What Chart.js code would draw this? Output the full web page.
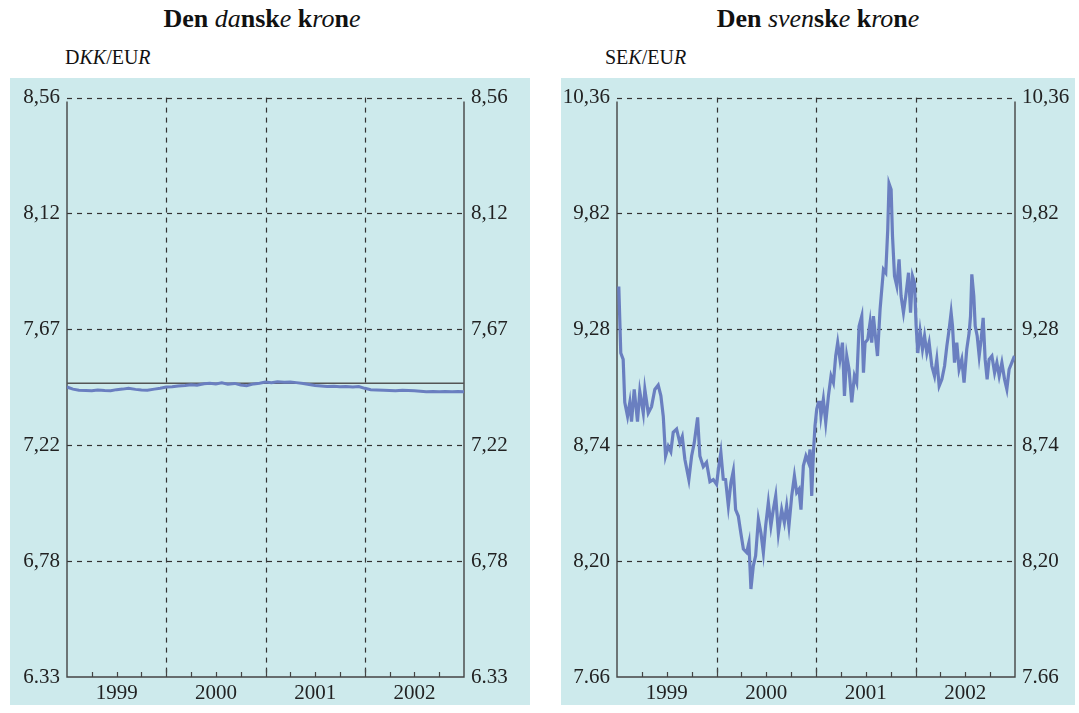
<!DOCTYPE html>
<html>
<head>
<meta charset="utf-8">
<script src="https://cdn.jsdelivr.net/npm/chart.js@4/dist/chart.umd.min.js"></script>
<style>
  html, body { margin: 0; padding: 0; background: #fff; }
  body { width: 1079px; height: 713px; position: relative; overflow: hidden;
         font-family: 'Liberation Serif', 'Times New Roman', serif; color: #111; }
  .title { position: absolute; top: 4px; width: 400px; text-align: center;
           font-family: 'Liberation Serif', 'Times New Roman', serif;
           font-size: 26px; white-space: nowrap; }
  .title b { font-weight: 700; font-style: normal; }
  .title i { font-weight: 400; font-style: italic; }
  .unit { position: absolute; top: 46px; font-size: 20px; white-space: nowrap;
          font-family: 'Liberation Serif', 'Times New Roman', serif; }
  .panel { position: absolute; top: 78px; height: 627px; background: #cdeaec; }
  .panel canvas { position: absolute; left: 0; top: 0; }
</style>
</head>
<body>
<div class="title" style="left:62px"><b>Den </b><i>da</i><b>nsk</b><i>e</i><b> k</b><i>ro</i><b>n</b><i>e</i></div>
<div class="title" style="left:618px"><b>Den </b><i>sven</i><b>sk</b><i>e</i><b> k</b><i>ro</i><b>n</b><i>e</i></div>
<div class="unit" style="left:65px">D<i>KK</i>/EU<i>R</i></div>
<div class="unit" style="left:605px">SE<i>K</i>/EU<i>R</i></div>

<div class="panel" style="left:10px;width:520px"><canvas id="dkkChart" width="520" height="627"></canvas></div>
<div class="panel" style="left:561px;width:514px"><canvas id="sekChart" width="514" height="627"></canvas></div>

<script>
/* === Data === */

var yearLabels = ['1999', '2000', '2001', '2002'];

var dkkTickValues = [6.33, 6.776, 7.222, 7.668, 8.114, 8.56];
var dkkTickLabels = ['6.33', '6,78', '7,22', '7,67', '8,12', '8,56'];
var sekTickValues = [7.66, 8.20, 8.74, 9.28, 9.82, 10.36];
var sekTickLabels = ['7.66', '8,20', '8,74', '9,28', '9,82', '10,36'];

var parityDates = [1999, 2003];
var parityRates = [7.46038, 7.46038];

var dkkDates = [
  1999.00, 1999.06, 1999.12, 1999.19, 1999.25, 1999.31, 1999.38, 1999.44,
  1999.50, 1999.56, 1999.62, 1999.69, 1999.75, 1999.81, 1999.88, 1999.94,
  2000.00, 2000.06, 2000.12, 2000.19, 2000.25, 2000.31, 2000.38, 2000.44,
  2000.50, 2000.56, 2000.62, 2000.69, 2000.75, 2000.81, 2000.88, 2000.94,
  2001.00, 2001.06, 2001.12, 2001.19, 2001.25, 2001.31, 2001.38, 2001.44,
  2001.50, 2001.56, 2001.62, 2001.69, 2001.75, 2001.81, 2001.88, 2001.94,
  2002.00, 2002.06, 2002.12, 2002.19, 2002.25, 2002.31, 2002.38, 2002.44,
  2002.50, 2002.56, 2002.62, 2002.69, 2002.75, 2002.81, 2002.88, 2002.94, 2003.00
];
var dkkRates = [
  7.446, 7.438, 7.434, 7.433, 7.432, 7.435, 7.433, 7.432,
  7.436, 7.438, 7.441, 7.437, 7.435, 7.434, 7.438, 7.441,
  7.446, 7.447, 7.450, 7.452, 7.455, 7.453, 7.459, 7.461,
  7.458, 7.462, 7.457, 7.460, 7.454, 7.451, 7.458, 7.461,
  7.465, 7.463, 7.466, 7.464, 7.465, 7.463, 7.460, 7.456,
  7.452, 7.450, 7.448, 7.449, 7.447, 7.448, 7.446, 7.448,
  7.441, 7.436, 7.435, 7.434, 7.433, 7.432, 7.434, 7.433,
  7.432, 7.430, 7.428, 7.429, 7.428, 7.429, 7.428, 7.429, 7.428
];

var sekDates = [
  1999.018, 1999.038, 1999.062, 1999.078, 1999.106, 1999.129, 1999.146, 1999.173,
  1999.206, 1999.229, 1999.264, 1999.280, 1999.314, 1999.347, 1999.380, 1999.414,
  1999.441, 1999.465, 1999.488, 1999.515, 1999.541, 1999.565, 1999.599, 1999.632,
  1999.656, 1999.682, 1999.722, 1999.750, 1999.776, 1999.810, 1999.833, 1999.867,
  1999.900, 1999.934, 1999.968,
  2000.001, 2000.024, 2000.044, 2000.068, 2000.091, 2000.119, 2000.145, 2000.169,
  2000.192, 2000.219, 2000.245, 2000.270, 2000.303, 2000.326, 2000.346, 2000.370,
  2000.393, 2000.421, 2000.447, 2000.471, 2000.494, 2000.521, 2000.547, 2000.571,
  2000.595, 2000.622, 2000.655, 2000.682, 2000.705, 2000.728, 2000.756, 2000.783,
  2000.806, 2000.829, 2000.849, 2000.873, 2000.899, 2000.924, 2000.940, 2000.957,
  2000.974, 2000.990,
  2001.007, 2001.024, 2001.040, 2001.050, 2001.074, 2001.098, 2001.125, 2001.151,
  2001.175, 2001.198, 2001.218, 2001.241, 2001.266, 2001.286, 2001.309, 2001.332,
  2001.359, 2001.386, 2001.409, 2001.433, 2001.460, 2001.477, 2001.493, 2001.520,
  2001.543, 2001.560, 2001.577, 2001.594, 2001.618, 2001.644, 2001.661, 2001.678,
  2001.701, 2001.721, 2001.734, 2001.755, 2001.769, 2001.789, 2001.812, 2001.835,
  2001.855, 2001.879, 2001.902, 2001.930, 2001.950, 2001.970, 2001.990,
  2002.006, 2002.023, 2002.046, 2002.070, 2002.091, 2002.114, 2002.137, 2002.164,
  2002.191, 2002.214, 2002.238, 2002.265, 2002.292, 2002.315, 2002.338, 2002.358,
  2002.372, 2002.392, 2002.415, 2002.438, 2002.465, 2002.488, 2002.515, 2002.539,
  2002.553, 2002.566, 2002.586, 2002.600, 2002.620, 2002.640, 2002.660, 2002.680,
  2002.700, 2002.720, 2002.740, 2002.768, 2002.795, 2002.818, 2002.841, 2002.868,
  2002.895, 2002.918, 2002.941, 2002.968, 2002.995
];
var sekRates = [
  9.48, 9.17, 9.14, 8.94, 8.875, 8.94, 8.85, 9.00,
  8.85, 8.99, 8.89, 9.00, 8.89, 8.92, 9.00, 9.02,
  8.97, 8.875, 8.69, 8.735, 8.71, 8.80, 8.815, 8.75,
  8.78, 8.675, 8.58, 8.69, 8.75, 8.87, 8.69, 8.64,
  8.66, 8.57, 8.58,
  8.558, 8.644, 8.706, 8.582, 8.58, 8.457, 8.566, 8.62,
  8.44, 8.41, 8.33, 8.256, 8.24, 8.287, 8.07, 8.178,
  8.225, 8.395, 8.33, 8.24, 8.364, 8.473, 8.364, 8.44,
  8.504, 8.33, 8.44, 8.38, 8.457, 8.364, 8.504, 8.597,
  8.52, 8.535, 8.44, 8.644, 8.69, 8.66, 8.72, 8.504,
  8.706, 8.83,
  8.907, 8.94, 8.94, 8.876, 8.954, 8.846, 8.97, 9.063,
  9.032, 9.156, 9.218, 9.14, 9.218, 8.97, 9.156, 9.094,
  8.94, 9.063, 9.032, 9.295, 9.342, 9.078, 9.218, 9.233,
  9.311, 9.218, 9.342, 9.264, 9.156, 9.373, 9.466, 9.559,
  9.544, 9.745, 9.96, 9.932, 9.714, 9.528, 9.482, 9.606,
  9.435, 9.358, 9.435, 9.544, 9.358, 9.528, 9.497,
  9.30, 9.17, 9.272, 9.187, 9.249, 9.17, 9.218, 9.109,
  9.063, 9.14, 9.016, 9.047, 9.109, 9.202, 9.28, 9.358,
  9.295, 9.125, 9.218, 9.094, 9.14, 9.032, 9.187, 9.264,
  9.342, 9.536, 9.435, 9.295, 9.249, 9.156, 9.233, 9.334,
  9.14, 9.047, 9.14, 9.156, 9.078, 9.125, 9.063, 9.125,
  9.047, 9.001, 9.094, 9.125, 9.156
];

/* === Chart helpers === */

(function () {
  'use strict';

  var FONT = "'Liberation Serif', 'Times New Roman', serif";
  var LINE_COLOR = '#6a7fc0';
  var INK = '#222';

  function toPoints(xs, ys) {
    return xs.map(function (x, i) { return { x: x, y: ys[i] }; });
  }

  // dashed grid, frame and inner quarter ticks drawn from the scales
  var framePlugin = {
    id: 'frame',
    beforeDatasetsDraw: function (chart) {
      var c = chart.ctx;
      var a = chart.chartArea;
      var xs = chart.scales.x;
      var ys = chart.scales.y;
      var yTicks = chart.options.yTickValues;
      c.save();
      c.strokeStyle = '#333';
      c.lineWidth = 1.2;
      c.setLineDash([5, 5]);
      yTicks.slice(1).forEach(function (v) {
        var y = Math.round(ys.getPixelForValue(v)) + 0.5;
        c.beginPath();
        c.moveTo(a.left, y);
        c.lineTo(a.right, y);
        c.stroke();
      });
      [2000, 2001, 2002].forEach(function (yr) {
        var x = Math.round(xs.getPixelForValue(yr)) + 0.5;
        c.beginPath();
        c.moveTo(x, a.top);
        c.lineTo(x, a.bottom);
        c.stroke();
      });
      c.setLineDash([]);
      c.strokeStyle = '#444';
      c.lineWidth = 1.4;
      c.beginPath();
      c.moveTo(a.left, a.top + 4);
      c.lineTo(a.left, a.bottom);
      c.lineTo(a.right, a.bottom);
      c.lineTo(a.right, a.top + 4);
      c.stroke();
      c.lineWidth = 1.2;
      for (var q = 1999.25; q < 2003; q += 0.25) {
        var qx = Math.round(xs.getPixelForValue(q)) + 0.5;
        var len = (q % 1 === 0) ? 8 : 5;
        c.beginPath();
        c.moveTo(qx, a.bottom);
        c.lineTo(qx, a.bottom - len);
        c.stroke();
      }
      c.restore();
    }
  };

  function yAxis(position, tickValues, tickLabels, width, min, max) {
    return {
      type: 'linear',
      position: position,
      min: min,
      max: max,
      grid: { display: false, drawTicks: false },
      border: { display: false },
      afterBuildTicks: function (scale) {
        scale.ticks = tickValues.map(function (v) { return { value: v }; });
      },
      afterFit: function (scale) { scale.width = width; },
      ticks: {
        color: INK,
        padding: 7,
        font: { family: FONT, size: 21 },
        callback: function (v, i) { return tickLabels[i]; }
      }
    };
  }

  function createRateChart(canvasId, datasets, tickValues, tickLabels, leftW, rightW) {
    var min = tickValues[0];
    var max = tickValues[tickValues.length - 1];
    return new Chart(document.getElementById(canvasId), {
      type: 'line',
      data: { datasets: datasets },
      options: {
        responsive: false,
        animation: false,
        yTickValues: tickValues,
        layout: { padding: { top: 19, left: 0, right: 0, bottom: 0 } },
        plugins: { legend: { display: false }, tooltip: { enabled: false } },
        elements: { point: { radius: 0 }, line: { tension: 0 } },
        scales: {
          x: {
            type: 'linear',
            min: 1999,
            max: 2003,
            grid: { display: false, drawTicks: false },
            border: { display: false },
            afterBuildTicks: function (scale) {
              scale.ticks = yearLabels.map(function (y) { return { value: +y + 0.5 }; });
            },
            afterFit: function (scale) { scale.height = 28; },
            ticks: {
              color: INK,
              padding: 4,
              maxRotation: 0,
              autoSkip: false,
              font: { family: FONT, size: 21 },
              callback: function (v, i) { return yearLabels[i]; }
            }
          },
          y: yAxis('left', tickValues, tickLabels, leftW, min, max),
          y2: yAxis('right', tickValues, tickLabels, rightW, min, max)
        }
      },
      plugins: [framePlugin]
    });
  }

  createRateChart('dkkChart', [
    {
      data: toPoints(dkkDates, dkkRates),
      borderColor: LINE_COLOR,
      borderWidth: 3,
      yAxisID: 'y'
    },
    {
      data: toPoints(parityDates, parityRates),
      borderColor: '#555',
      borderWidth: 1.4,
      yAxisID: 'y'
    }
  ], dkkTickValues, dkkTickLabels, 57, 66);

  createRateChart('sekChart', [
    {
      data: toPoints(sekDates, sekRates),
      borderColor: LINE_COLOR,
      borderWidth: 3.2,
      yAxisID: 'y'
    }
  ], sekTickValues, sekTickLabels, 56, 60);
})();
</script>
</body>
</html>
